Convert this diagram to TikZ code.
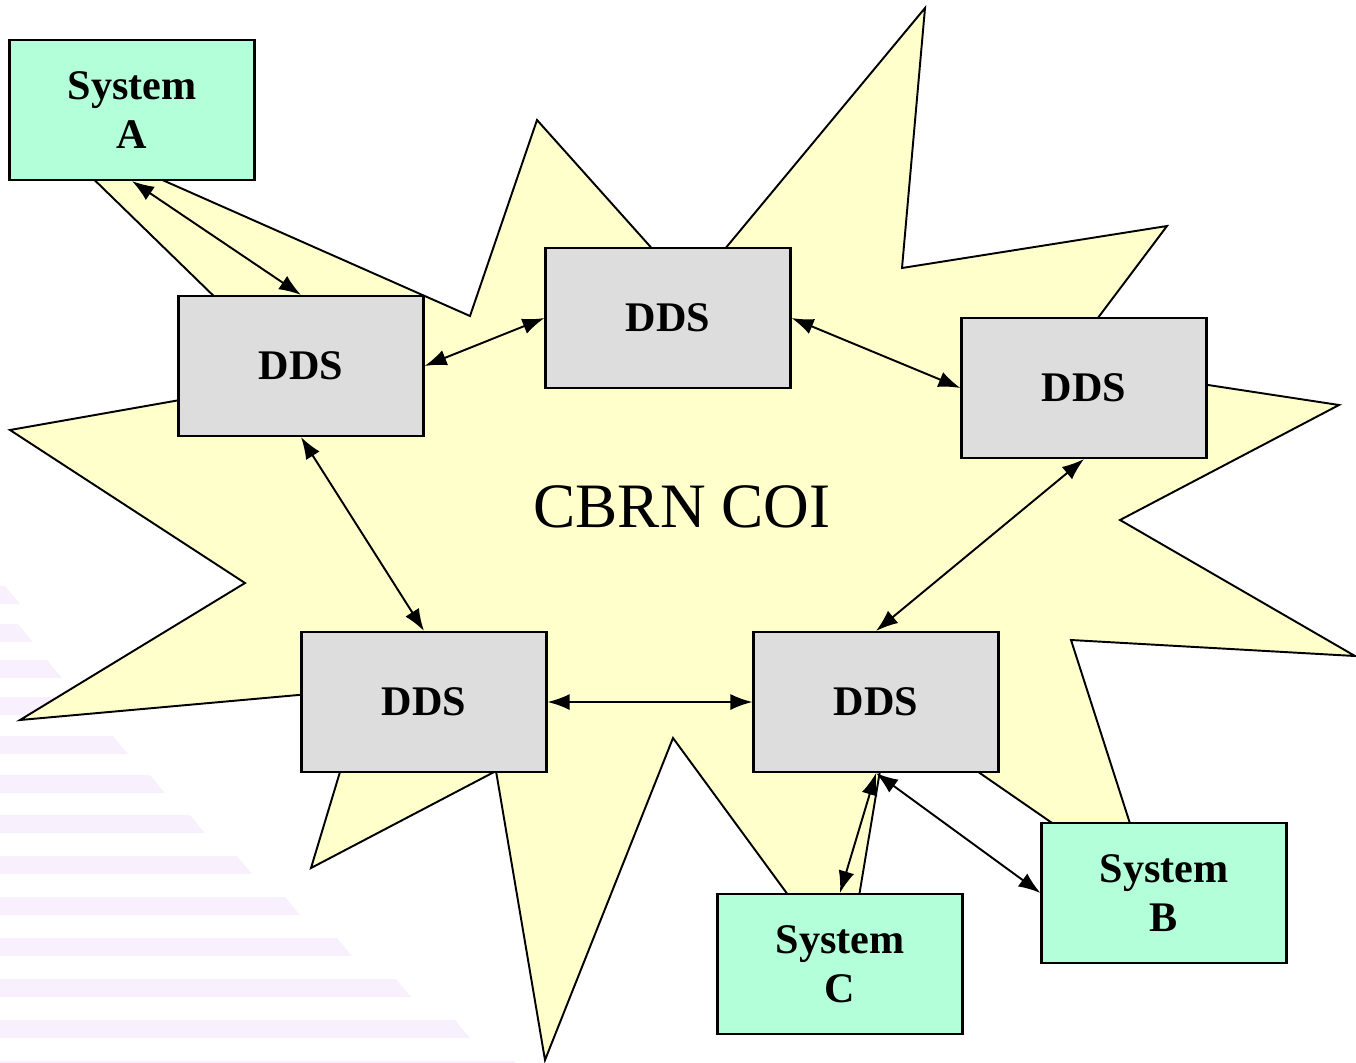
\documentclass[tikz,border=0pt]{standalone}
\usepackage{fontspec}
\setmainfont{Liberation Serif}
\usetikzlibrary{arrows.meta}

\definecolor{starfill}{RGB}{255,255,204}
\definecolor{ddsgray}{RGB}{221,221,221}
\definecolor{sysgreen}{RGB}{179,255,217}
\definecolor{bandpink}{RGB}{248,240,253}

\begin{document}
\begin{tikzpicture}[x=0.2mm,y=-0.2mm,
    dds/.style={draw,line width=1.2pt,fill=ddsgray,minimum width=49mm,minimum height=28mm,
      font=\fontsize{24}{28}\selectfont\bfseries},
    sys/.style={dds,fill=sysgreen,align=center},
    link/.style={line width=1.1pt,{Latex[length=4.4mm,width=3.2mm]}-{Latex[length=4.4mm,width=3.2mm]}}]
  \useasboundingbox (0,0) rectangle (1356,1062);
  % faint stripes of the slide background
  \foreach \y/\len in {595/20,633/33,669/62,706/95,745/128,784/165,824/205,
                       865/252,906/300,947/352,988/411,1029/470,1070/529}
    \fill[bandpink] (0,\y-9) -- (\len-15,\y-9) -- (\len,\y+9) -- (0,\y+9) -- cycle;
  % the CBRN COI starburst
  \draw[line width=1.1pt,fill=starfill]
    (38,125) -- (470,316) -- (537,120) -- (690,291) -- (925,8) -- (902,268)
    -- (1167,226) -- (1064,363) -- (1339,405) -- (1120,520) -- (1355,656)
    -- (1071,640) -- (1152,892) -- (890,711) -- (846,974) -- (673,738)
    -- (545,1060) -- (496,771) -- (311,868) -- (365,689) -- (20,720)
    -- (245,583) -- (10,430) -- (299,379) -- cycle;
  \node[font=\fontsize{36}{40}\selectfont] (coi) at (682,507) {CBRN COI};
  % DDS nodes
  \node[dds] (D1) at (301,366) {DDS};
  \node[dds] (D2) at (668,318) {DDS};
  \node[dds] (D3) at (1084,388) {DDS};
  \node[dds] (D4) at (424,702) {DDS};
  \node[dds] (D5) at (876,702) {DDS};
  % systems
  \node[sys] (A) at (132,110) {System\\A};
  \node[sys] (B) at (1164,893) {System\\B};
  \node[sys] (C) at (840,964) {System\\C};
  % links
  \draw[link] (A.south) -- (D1.north);
  \draw[link] (D1.east) -- (D2.west);
  \draw[link] (D2.east) -- (D3.west);
  \draw[link] (D1.south) -- (D4.north);
  \draw[link] (D4.east) -- (D5.west);
  \draw[link] (D3.south) -- (D5.north);
  \draw[link] (D5.south) -- (C.north);
  \draw[link] (D5.south) -- (B.west);
\end{tikzpicture}
\end{document}
